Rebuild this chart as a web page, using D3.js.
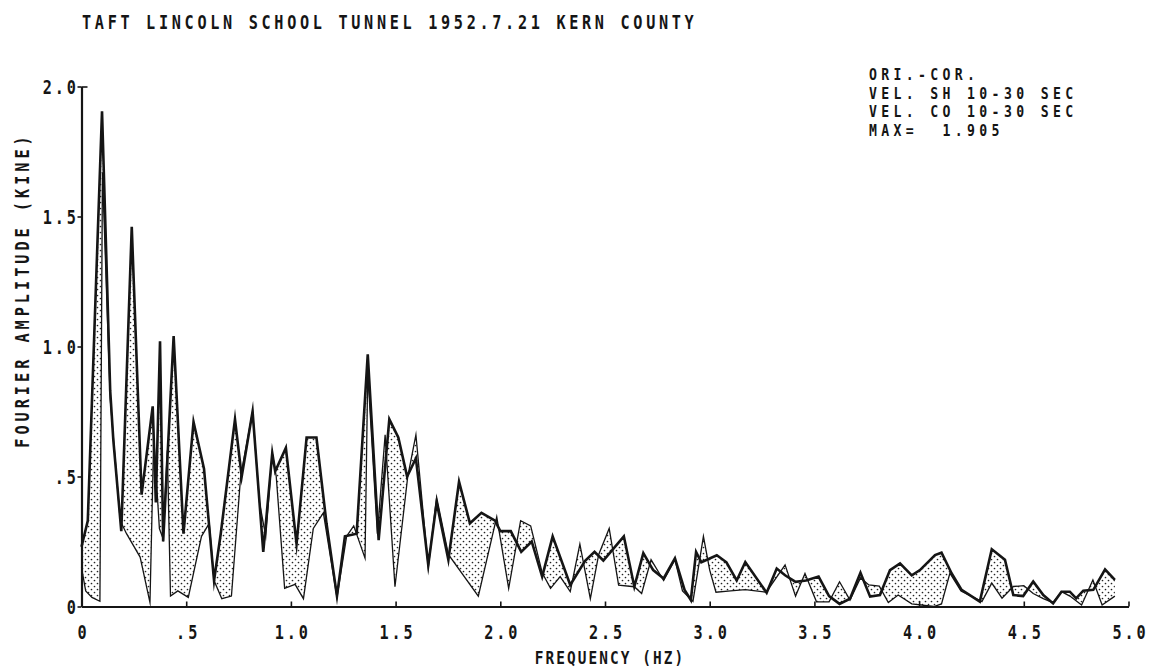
<!DOCTYPE html>
<html>
<head>
<meta charset="utf-8">
<script src="https://cdn.jsdelivr.net/npm/d3@7"></script>
<style>
  html, body { margin: 0; padding: 0; background: #fff; }
  svg text { font-family: "DejaVu Sans Mono", "Liberation Mono", monospace; font-weight: bold; fill: #151515; }
</style>
</head>
<body>
<svg id="chart" width="1152" height="667"></svg>
<script>
// ---- text ----
const titleText = "TAFT LINCOLN SCHOOL TUNNEL 1952.7.21 KERN COUNTY";
const legendLines = ["ORI.-COR.", "VEL. SH 10-30 SEC", "VEL. CO 10-30 SEC", "MAX=  1.905"];
const xAxisTitle = "FREQUENCY (HZ)";
const yAxisTitle = "FOURIER AMPLITUDE (KINE)";

// ---- axes ----
const xTicks = [0, 0.5, 1.0, 1.5, 2.0, 2.5, 3.0, 3.5, 4.0, 4.5, 5.0];
const xTickLabels = ["0", ".5", "1.0", "1.5", "2.0", "2.5", "3.0", "3.5", "4.0", "4.5", "5.0"];
const yTicks = [0, 0.5, 1.0, 1.5, 2.0];
const yTickLabels = ["0", ".5", "1.0", "1.5", "2.0"];

// ---- SH component (heavy line): frequency (Hz), amplitude (kine) ----
const shFreq = [0.000, 0.030, 0.098, 0.122, 0.137, 0.152, 0.190, 0.240, 0.250, 0.287,
  0.340, 0.355, 0.375, 0.390, 0.440, 0.487, 0.535, 0.585, 0.633, 0.665,
  0.733, 0.765, 0.790, 0.817, 0.868, 0.911, 0.925, 0.976, 1.027, 1.075,
  1.122, 1.170, 1.220, 1.258, 1.314, 1.367, 1.419, 1.470, 1.513, 1.555,
  1.597, 1.656, 1.696, 1.752, 1.803, 1.855, 1.910, 1.975, 2.000, 2.050,
  2.100, 2.150, 2.200, 2.250, 2.334, 2.405, 2.450, 2.492, 2.590, 2.640,
  2.683, 2.730, 2.780, 2.834, 2.880, 2.910, 2.935, 2.960, 3.034, 3.080,
  3.129, 3.170, 3.272, 3.320, 3.360, 3.410, 3.460, 3.520, 3.570, 3.620,
  3.670, 3.720, 3.766, 3.813, 3.861, 3.909, 3.965, 4.004, 4.076, 4.107,
  4.155, 4.203, 4.290, 4.347, 4.410, 4.450, 4.497, 4.545, 4.593, 4.640,
  4.680, 4.720, 4.750, 4.784, 4.832, 4.888, 4.935];
const shAmp = [0.23, 0.33, 1.905, 1.25, 0.83, 0.64, 0.29, 1.46, 1.24, 0.43,
  0.77, 0.40, 1.02, 0.25, 1.04, 0.28, 0.71, 0.53, 0.10, 0.28,
  0.72, 0.50, 0.62, 0.75, 0.21, 0.59, 0.52, 0.61, 0.24, 0.65,
  0.65, 0.32, 0.04, 0.27, 0.28, 0.97, 0.255, 0.72, 0.65, 0.50,
  0.57, 0.16, 0.40, 0.18, 0.48, 0.32, 0.36, 0.33, 0.29, 0.29,
  0.21, 0.25, 0.115, 0.27, 0.083, 0.176, 0.21, 0.177, 0.27, 0.076,
  0.205, 0.14, 0.108, 0.185, 0.064, 0.025, 0.21, 0.17, 0.197, 0.17,
  0.10, 0.171, 0.053, 0.146, 0.12, 0.095, 0.10, 0.115, 0.04, 0.01,
  0.03, 0.13, 0.038, 0.044, 0.14, 0.166, 0.12, 0.14, 0.198, 0.207,
  0.128, 0.064, 0.019, 0.22, 0.18, 0.044, 0.04, 0.096, 0.044, 0.012,
  0.057, 0.057, 0.031, 0.061, 0.064, 0.143, 0.102];

// ---- CO component (light line): frequency (Hz), amplitude (kine) ----
const coFreq = [0.000, 0.020, 0.050, 0.088, 0.100, 0.137, 0.185, 0.215, 0.280, 0.327,
  0.345, 0.372, 0.390, 0.410, 0.425, 0.460, 0.510, 0.573, 0.610, 0.633,
  0.670, 0.716, 0.760, 0.817, 0.850, 0.880, 0.911, 0.930, 0.970, 1.020,
  1.060, 1.107, 1.155, 1.220, 1.266, 1.300, 1.354, 1.367, 1.413, 1.450,
  1.497, 1.558, 1.597, 1.656, 1.696, 1.752, 1.895, 1.983, 2.040, 2.097,
  2.145, 2.200, 2.240, 2.286, 2.334, 2.380, 2.430, 2.470, 2.520, 2.565,
  2.640, 2.675, 2.720, 2.780, 2.834, 2.870, 2.920, 2.970, 3.000, 3.030,
  3.100, 3.170, 3.270, 3.360, 3.410, 3.455, 3.510, 3.570, 3.620, 3.670,
  3.720, 3.760, 3.810, 3.853, 3.900, 3.965, 4.070, 4.107, 4.147, 4.200,
  4.300, 4.347, 4.396, 4.450, 4.500, 4.545, 4.593, 4.640, 4.680, 4.720,
  4.776, 4.830, 4.874, 4.935];
const coAmp = [0.15, 0.06, 0.035, 0.02, 1.67, 0.80, 0.33, 0.28, 0.19, 0.015,
  0.65, 0.30, 0.26, 0.60, 0.04, 0.06, 0.035, 0.27, 0.32, 0.10,
  0.03, 0.04, 0.50, 0.75, 0.40, 0.27, 0.59, 0.50, 0.07, 0.085,
  0.03, 0.30, 0.36, 0.035, 0.27, 0.31, 0.186, 0.90, 0.28, 0.66,
  0.076, 0.50, 0.66, 0.15, 0.42, 0.20, 0.04, 0.345, 0.07, 0.33,
  0.31, 0.13, 0.07, 0.115, 0.057, 0.24, 0.03, 0.20, 0.30, 0.082,
  0.076, 0.05, 0.18, 0.10, 0.18, 0.06, 0.02, 0.27, 0.14, 0.055,
  0.06, 0.065, 0.055, 0.16, 0.04, 0.127, 0.018, 0.018, 0.095, 0.025,
  0.11, 0.083, 0.078, 0.015, 0.044, 0.01, 0.0, 0.01, 0.128, 0.06,
  0.019, 0.09, 0.032, 0.077, 0.08, 0.05, 0.03, 0.015, 0.057, 0.04,
  0.006, 0.102, 0.006, 0.04];

const ink = "#151515";
const FS = 19;          // plotter lettering size
const SX = 0.8;         // narrow plotter glyphs
const svg = d3.select("#chart");

const x = d3.scaleLinear().domain([0, 5]).range([81.5, 1128.5]);
const y = d3.scaleLinear().domain([0, 2]).range([606.5, 86.5]);

// stipple used between the two spectra
const defs = svg.append("defs");
const pat = defs.append("pattern")
  .attr("id", "stipple").attr("patternUnits", "userSpaceOnUse")
  .attr("width", 6).attr("height", 6);
pat.append("circle").attr("cx", 1.5).attr("cy", 1.5).attr("r", 0.85).attr("fill", "#222");
pat.append("circle").attr("cx", 4.5).attr("cy", 4.5).attr("r", 0.85).attr("fill", "#222");

const sh = shFreq.map((f, i) => [f, shAmp[i]]);
const co = coFreq.map((f, i) => [f, coAmp[i]]);

const line = d3.line().x(d => x(d[0])).y(d => y(d[1]));

// region between the spectra: along SH forward, back along CO
svg.append("path")
  .attr("d", line(sh.concat(co.slice().reverse())) + "Z")
  .attr("fill", "url(#stipple)")
  .attr("fill-rule", "nonzero")
  .attr("stroke", "none");

svg.append("path")
  .attr("d", line(co))
  .attr("fill", "none").attr("stroke", ink)
  .attr("stroke-width", 1.3).attr("stroke-linejoin", "miter").attr("stroke-miterlimit", 10);

svg.append("path")
  .attr("d", line(sh))
  .attr("fill", "none").attr("stroke", ink)
  .attr("stroke-width", 2.6).attr("stroke-linejoin", "miter").attr("stroke-miterlimit", 10);

// x axis: ticks point into the plot
const xAxis = d3.axisBottom(x)
  .tickValues(xTicks)
  .tickFormat((d, i) => xTickLabels[i])
  .tickSize(-5).tickSizeOuter(0).tickPadding(17);
const gx = svg.append("g").attr("transform", `translate(0,${y(0)})`).call(xAxis);
gx.select(".domain").attr("stroke", ink).attr("stroke-width", 2.2);
gx.selectAll(".tick line").attr("stroke", ink).attr("stroke-width", 1.6);
const lsTick = 3.6;
gx.selectAll(".tick text")
  .attr("font-size", FS).attr("letter-spacing", lsTick + "px")
  .attr("font-family", null).attr("fill", null)
  .attr("y", 0).attr("dy", null)
  .attr("transform", `translate(${lsTick * SX / 2},32) scale(${SX},1)`);

// y axis
const yAxis = d3.axisLeft(y)
  .tickValues(yTicks)
  .tickFormat((d, i) => yTickLabels[i])
  .tickSize(4).tickSizeOuter(0).tickPadding(4);
const gy = svg.append("g").attr("transform", `translate(${x(0)},0)`).call(yAxis);
gy.select(".domain").attr("stroke", ink).attr("stroke-width", 2.2);
gy.selectAll(".tick line").attr("stroke", ink).attr("stroke-width", 1.6);
gy.selectAll(".tick text")
  .attr("font-size", FS).attr("letter-spacing", lsTick + "px")
  .attr("font-family", null).attr("fill", null)
  .attr("x", 0).attr("dy", "0.36em")
  .attr("transform", `translate(${-5.5 + lsTick * SX},0) scale(${SX},1)`);

// small corner tick at the top of the amplitude axis
const gyTop = svg.append("g").attr("transform", `translate(${x(0)},0)`)
  .call(d3.axisRight(y).tickValues([2]).tickFormat("").tickSize(6).tickSizeOuter(0));
gyTop.select(".domain").remove();
gyTop.selectAll(".tick line").attr("stroke", ink).attr("stroke-width", 1.6);

// title
svg.append("text")
  .attr("transform", `translate(82,29) scale(${SX},1)`)
  .attr("font-size", FS).attr("letter-spacing", "4.6px")
  .text(titleText);

// annotation block
const FSL = 15.5;
svg.append("g").selectAll("text").data(legendLines).join("text")
  .attr("transform", (d, i) => `translate(869,${80 + i * 18.7}) scale(0.85,1)`)
  .attr("font-size", FSL).attr("letter-spacing", "5.1px")
  .style("white-space", "pre")
  .text(d => d);

// axis titles
svg.append("text")
  .attr("transform", `translate(610,664) scale(${SX},1)`)
  .attr("text-anchor", "middle")
  .attr("font-size", 18).attr("letter-spacing", "2.6px")
  .text(xAxisTitle);

svg.append("text")
  .attr("transform", `translate(29,290) rotate(-90) scale(${SX},1)`)
  .attr("text-anchor", "middle")
  .attr("font-size", FS).attr("letter-spacing", "5px")
  .text(yAxisTitle);
</script>
</body>
</html>
